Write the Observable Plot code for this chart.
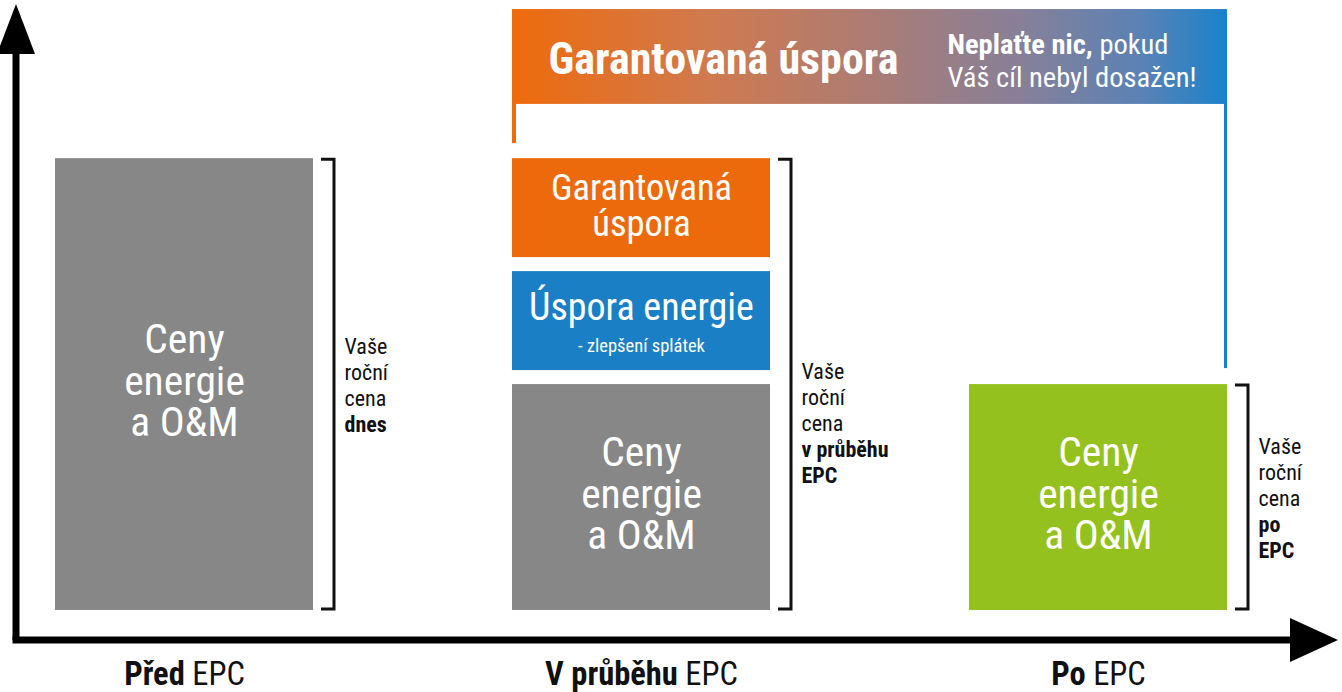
<!DOCTYPE html>
<html>
<head>
<meta charset="utf-8">
<script src="https://cdn.jsdelivr.net/npm/d3@7"></script>
<script src="https://cdn.jsdelivr.net/npm/@observablehq/plot@0.6"></script>
<style>
  html, body { margin: 0; padding: 0; background: #fff; overflow: hidden; }
  #chart svg { display: block; }
</style>
</head>
<body>
<div id="chart"></div>
<script>
// ---------- data ----------
const phases = ["Před EPC", "V průběhu EPC", "Po EPC"];
const phaseTitle = ["**Před** EPC", "**V průběhu** EPC", "**Po** EPC"];

// stacked segments (value = share of today's annual cost)
const segPhase = ["Před EPC", "V průběhu EPC", "V průběhu EPC", "V průběhu EPC", "Po EPC"];
const segKind  = ["Ceny energie a O&M", "Ceny energie a O&M", "Úspora energie", "Garantovaná úspora", "Ceny energie a O&M po EPC"];
const segValue = [100, 50, 25, 25, 50];
const segLabel = ["Ceny\nenergie\na O&M", "Ceny\nenergie\na O&M", "Úspora energie", "Garantovaná\núspora", "Ceny\nenergie\na O&M"];
const segNote  = ["", "", "- zlepšení splátek", "", ""];

const kinds = ["Ceny energie a O&M", "Úspora energie", "Garantovaná úspora", "Ceny energie a O&M po EPC"];
const kindColors = ["#878787", "#1b7fc6", "#ec6a0c", "#95c11f"];

const noteText = [
  "Vaše\nroční\ncena\n**dnes**",
  "Vaše\nroční\ncena\n**v průběhu**\n**EPC**",
  "Vaše\nroční\ncena\n**po**\n**EPC**"
];
const noteShift = [0, 38, 0];

const bannerTitle = "Garantovaná úspora";
const bannerNote = "**Neplaťte nic,** pokud\nVáš cíl nebyl dosažen!";
const bannerFrom = "V průběhu EPC";
const bannerTo = "Po EPC";
const bannerRange = [112, 133];

// ---------- build table ----------
const segs = segPhase.map((p, i) => ({phase: p, kind: segKind[i], value: segValue[i], label: segLabel[i], note: segNote[i]}));
const totals = {};
for (const s of segs) {
  s.y1 = totals[s.phase] ?? 0;
  s.y2 = s.y1 + s.value;
  totals[s.phase] = s.y2;
  s.mid = (s.y1 + s.y2) / 2;
  s.base = s.y1 === 0;
}
const brackets = phases.map((p, i) => ({phase: p, top: totals[p], mid: totals[p] / 2, text: noteText[i], shift: noteShift[i]}));
const bannerMid = (bannerRange[0] + bannerRange[1]) / 2;

const FONT = "'Roboto Condensed', 'Liberation Sans Narrow', 'Arial Narrow', 'DejaVu Sans Condensed', Roboto, sans-serif";

const base = segs.filter(d => d.base);
const upper = segs.filter(d => !d.base);

const plot = Plot.plot({
  width: 1342,
  height: 692,
  marginLeft: 0,
  marginRight: 60,
  marginTop: 0,
  marginBottom: 82,
  style: {fontFamily: FONT, background: "#fff", overflow: "visible"},
  x: {domain: phases, paddingInner: 0.4354, paddingOuter: 0.12, axis: null},
  y: {domain: [0, 135], axis: null},
  color: {domain: kinds, range: kindColors},
  marks: [
    Plot.barY(base, {x: "phase", y1: "y1", y2: "y2", fill: "kind"}),
    Plot.barY(upper, {x: "phase", y1: "y1", y2: "y2", fill: "kind", insetBottom: 14}),
    // labels inside cost bars
    Plot.text(base, {x: "phase", y: "mid", text: "label", fill: "white", fontSize: 41.5, lineHeight: 1.0, dy: -3}),
    // guaranteed saving label
    Plot.text(upper.filter(d => d.kind === "Garantovaná úspora"), {x: "phase", y: "mid", text: "label", fill: "white", fontSize: 36.5, lineHeight: 1.0, dy: -9}),
    // energy saving label
    Plot.text(upper.filter(d => d.kind === "Úspora energie"), {x: "phase", y: "mid", text: "label", fill: "white", fontSize: 38, dy: -20}),
    Plot.text(upper.filter(d => d.note), {x: "phase", y: "mid", text: "note", fill: "white", fontSize: 18.5, dy: 18}),
    // bracket notes
    ...brackets.map(b => Plot.text([b], {x: "phase", y: "mid", text: "text", fill: "#111", fontSize: 22, lineHeight: 1.18, textAnchor: "start", dx: 160, dy: b.shift})),
    // phase labels under axis
    Plot.text(phases, {x: d => d, y: () => 0, text: (d, i) => phaseTitle[i], fill: "#111", fontSize: 32.5, dy: 64}),
    // banner texts
    Plot.text([{phase: bannerFrom, y: bannerMid, text: bannerTitle}], {x: "phase", y: "y", text: "text", fill: "white", fontWeight: "bold", fontSize: 44, dx: 82, dy: 3}),
    Plot.text([{phase: bannerTo, y: bannerMid, text: bannerNote}], {x: "phase", y: "y", text: "text", fill: "white", fontSize: 28.5, lineHeight: 1.16, textAnchor: "start", dx: -151, dy: 3})
  ]
});

document.getElementById("chart").appendChild(plot);

// ---------- decorations drawn with the plot's own scales ----------
const sx = plot.scale("x");
const sy = plot.scale("y");
const bw = sx.bandwidth;
const X = p => sx.apply(p);
const Y = v => sy.apply(v);
const svg = d3.select(plot);
const ns = "http://www.w3.org/2000/svg";

// rich text: **bold**
svg.selectAll("text, tspan").each(function () {
  if (this.children && this.children.length) return;
  const t = this.textContent;
  if (!t.includes("**")) return;
  const parts = t.split("**");
  this.textContent = "";
  parts.forEach((p, k) => {
    if (!p) return;
    const ts = document.createElementNS(ns, "tspan");
    if (k % 2) ts.setAttribute("font-weight", "bold");
    ts.textContent = p;
    this.appendChild(ts);
  });
});

// banner (behind texts)
const bannerLeft = X(bannerFrom);
const bannerRight = X(bannerTo) + bw;
const defs = svg.insert("defs", ":first-child");
const grad = defs.append("linearGradient").attr("id", "bannerGrad")
  .attr("gradientUnits", "userSpaceOnUse")
  .attr("x1", bannerLeft).attr("x2", bannerRight).attr("y1", 0).attr("y2", 0);
[[0, "#ee6b0c"], [0.28, "#cf7a50"], [0.5, "#ac7c74"], [0.72, "#85809a"], [0.88, "#5a82b4"], [1, "#1a82cc"]]
  .forEach(([o, c]) => grad.append("stop").attr("offset", o).attr("stop-color", c));

const bannerG = svg.insert("g", "g").attr("fill", "url(#bannerGrad)");
const bTop = Y(bannerRange[1]);
const bBot = Y(bannerRange[0]);
bannerG.append("rect").attr("x", bannerLeft).attr("y", bTop).attr("width", bannerRight - bannerLeft).attr("height", bBot - bTop);
bannerG.append("rect").attr("x", bannerLeft).attr("y", bBot - 1).attr("width", 4).attr("height", Y(totals[bannerFrom]) - 15 - bBot + 1);
bannerG.append("rect").attr("x", bannerRight - 3).attr("y", bBot - 1).attr("width", 3).attr("height", Y(totals[bannerTo]) - 16 - bBot + 1);

// brackets
const deco = svg.append("g");
for (const b of brackets) {
  const x0 = X(b.phase) + bw + 8;
  const x1 = x0 + 13;
  const yt = Y(b.top), yb = Y(0);
  deco.append("path")
    .attr("d", `M${x0},${yt + 1}H${x1}V${yb - 1}H${x0}`)
    .attr("fill", "none").attr("stroke", "#111").attr("stroke-width", 3);
}

// axes with arrows
const ax = X(phases[0]) - 39;
const ay = Y(0) + 30;
deco.append("path").attr("d", `M${ax},${ay}V${50}`).attr("stroke", "#000").attr("stroke-width", 7).attr("fill", "none");
deco.append("path").attr("d", `M${ax - 3.5},${ay}H${1296}`).attr("stroke", "#000").attr("stroke-width", 7).attr("fill", "none");
deco.append("path").attr("d", `M${ax},${4}L${ax + 19},${54}L${ax - 19},${54}Z`).attr("fill", "#000");
deco.append("path").attr("d", `M${1338},${ay}L${1290},${ay - 22}L${1290},${ay + 22}Z`).attr("fill", "#000");
</script>
</body>
</html>
